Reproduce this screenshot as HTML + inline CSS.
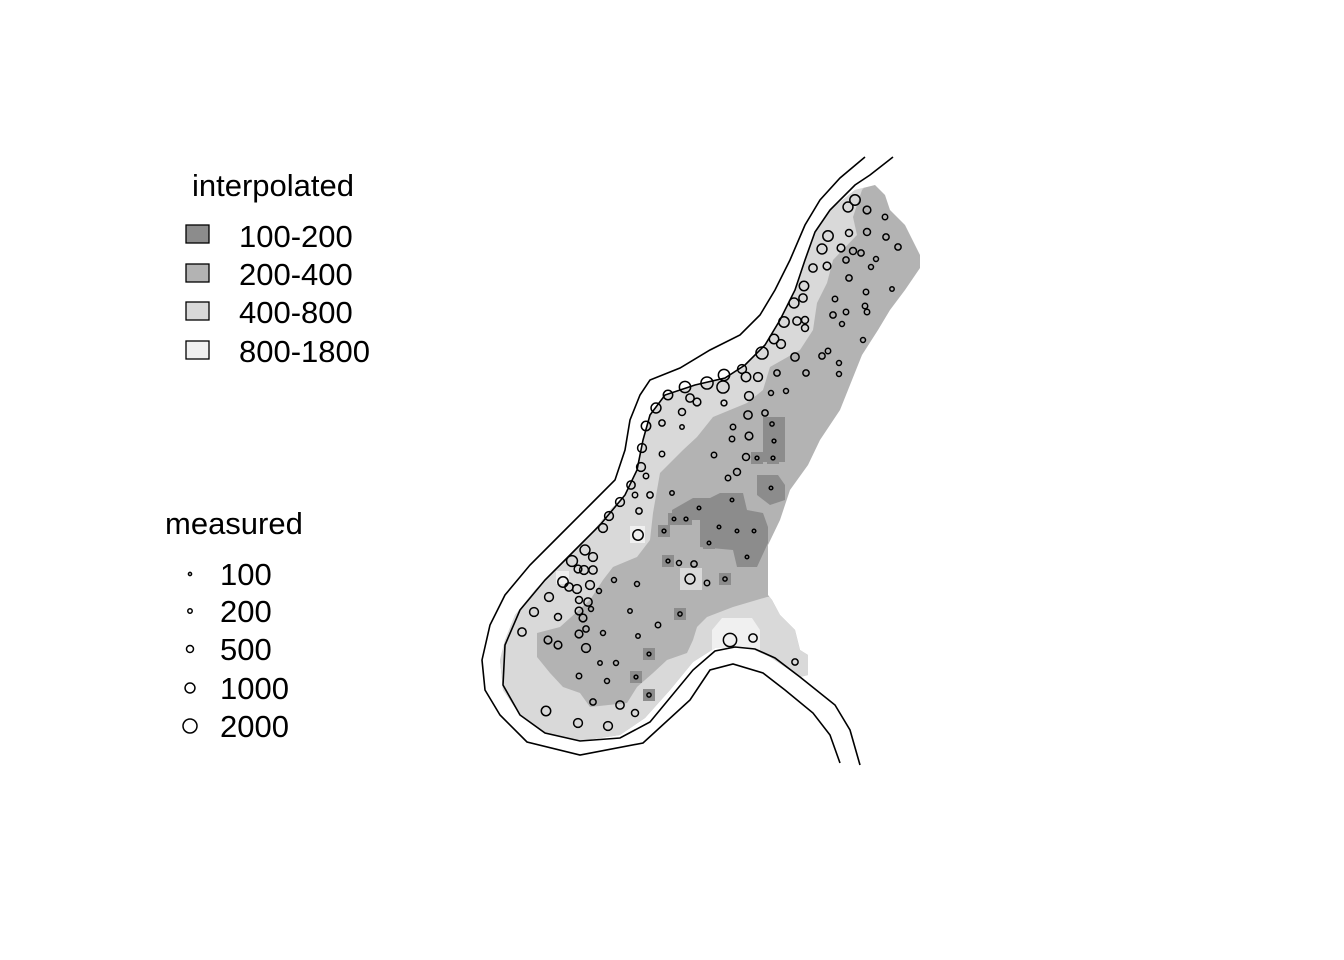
<!DOCTYPE html>
<html><head><meta charset="utf-8"><style>
html,body{margin:0;padding:0;background:#fff;}
svg{display:block;font-family:"Liberation Sans",sans-serif;}
</style></head><body>
<svg id="chart" width="1344" height="960" viewBox="0 0 1344 960" xmlns="http://www.w3.org/2000/svg">
<defs><clipPath id="rc"><path id="rpath" d="M875,185 L885,195 890,210 905,225 915,245 920,255 920,268 905,290 890,310 878,330 862,355 848,390 840,410 820,440 808,465 790,490 780,520 768,545 768,595 772,600 780,615 795,630 800,650 808,655 808,675 800,677 770,657 750,648 715,648 693,662 670,690 645,718 620,735 580,741 545,733 520,715 503,690 500,660 505,640 515,615 535,590 560,565 590,535 610,510 625,495 637,470 643,440 650,415 665,395 695,385 725,378 745,365 765,345 780,320 795,290 805,260 815,232 830,210 855,190Z"/></clipPath></defs>
<g clip-path="url(#rc)">
<rect x="480" y="150" width="460" height="640" fill="#b3b3b3"/>
<path fill="#d9d9d9" d="M820,160 L880,170 862,190 853,217 857,235 833,260 827,283 817,303 813,330 800,350 770,367 763,390 747,403 713,417 697,437 683,450 660,473 653,513 650,540 637,557 613,567 603,580 590,600 560,627 537,633 537,657 550,673 563,687 580,693 590,707 627,703 637,687 653,673 667,660 687,653 693,640 697,627 707,617 733,607 767,597 830,590 830,780 480,780 470,600 600,470 620,380 760,300Z"/>
<rect x="680" y="568" width="22" height="22" fill="#d9d9d9"/>
<path fill="#8c8c8c" d="M672,510 L693,498 710,498 720,493 743,493 747,510 763,513 768,527 768,543 757,567 737,567 733,550 700,547 700,520 672,520Z"/>
<path fill="#8c8c8c" d="M757,475 L778,475 785,485 785,500 770,505 757,495Z"/>
<rect x="763" y="417" width="22" height="45" fill="#8c8c8c"/>
<g id="darkspots"></g>
<rect x="630" y="526" width="15" height="17" fill="#f0f0f0"/>
<path fill="#f0f0f0" d="M712,630 L722,618 752,618 760,630 760,650 712,650Z"/>
<rect x="556" y="571" width="13" height="13" fill="#f0f0f0"/>
</g>
<g fill="none" stroke="#000" stroke-width="1.6">
<polyline points="865,157 840,178 820,200 805,225 790,260 775,290 760,315 740,335 710,350 680,368 650,380 640,395 630,420 625,450 615,480 590,505 560,535 530,565 505,595 490,625 482,660 485,690 500,715 527,742 580,755 643,743 690,700 710,670 733,664 763,673 785,690 813,713 830,735 840,763"/>
<polyline points="893,157 870,175 855,185 830,210 815,232 805,260 795,290 780,320 765,345 745,365 725,378 695,385 665,395 650,415 643,440 637,470 625,495 600,525 575,550 545,580 520,610 505,645 503,685 520,715 545,733 580,741 620,738 650,722 693,670 715,651 735,647 755,649 775,658 800,677 835,705 850,730 860,765"/>
</g>
<g id="pts" fill="none" stroke="#000" stroke-width="1.5"></g>
<g font-size="31">
<text x="192" y="196">interpolated</text>
<rect x="186" y="225" width="23" height="18" fill="#8c8c8c" stroke="#000" stroke-width="1.3"/>
<rect x="186" y="264" width="23" height="18" fill="#b3b3b3" stroke="#000" stroke-width="1.3"/>
<rect x="186" y="302" width="23" height="18" fill="#d9d9d9" stroke="#000" stroke-width="1.3"/>
<rect x="186" y="341" width="23" height="18" fill="#f0f0f0" stroke="#000" stroke-width="1.3"/>
<text x="239" y="247">100-200</text>
<text x="239" y="285">200-400</text>
<text x="239" y="323">400-800</text>
<text x="239" y="362">800-1800</text>
</g>
<g id="leg2" font-size="31">
<text x="165" y="534">measured</text>
</g>
</svg>
<script>
const px = [855,848,867,885,828,849,867,886,898,822,841,853,861,846,876,871,827,813,849,892,866,865,867,804,803,794,835,833,846,842,784,797,805,805,863,774,781,762,822,828,839,839,795,742,746,758,777,806,724,723,707,685,690,697,668,749,771,786,724,682,656,748,765,662,682,733,772,646,749,732,774,642,662,714,746,757,773,641,646,737,728,631,635,650,672,771,620,732,699,639,609,674,686,603,719,737,754,664,638,709,585,593,572,747,668,679,694,578,584,593,690,725,707,614,637,563,569,577,590,599,549,579,588,591,579,534,583,630,680,558,658,586,579,603,638,522,548,558,586,730,753,649,600,616,795,579,636,607,649,593,620,546,635,578,608];
const py = [200,207,210,217,236,233,232,237,247,249,248,251,253,260,259,267,266,268,278,289,292,306,312,286,298,303,299,315,312,324,322,321,320,328,340,339,344,353,356,351,363,374,357,369,377,377,373,373,375,387,383,387,398,402,395,396,393,391,403,412,408,415,413,423,427,427,424,426,436,439,441,448,454,455,457,458,458,467,476,472,478,485,495,495,493,488,502,500,508,511,516,519,519,528,527,531,531,531,535,543,550,557,561,557,561,563,564,569,570,570,579,579,583,580,584,582,587,589,585,591,597,600,602,609,611,612,618,611,614,617,625,629,634,633,636,632,640,645,648,640,638,654,663,663,662,676,677,681,695,702,705,711,713,723,726];
const zinc = [1100,1000,600,300,1100,500,500,400,400,1000,600,500,400,400,250,250,600,700,400,200,300,300,300,900,700,1000,300,400,300,250,1100,700,500,500,250,900,800,1500,400,300,250,250,700,800,900,800,400,400,1300,1500,1500,1300,700,600,900,800,250,250,350,500,1000,700,400,400,200,300,180,900,600,300,150,800,300,300,500,150,150,800,300,500,300,700,300,400,200,130,800,130,130,400,800,130,150,800,130,130,130,150,1100,130,1000,800,1200,130,150,250,400,600,800,700,1000,180,300,250,250,1100,700,800,800,250,800,500,700,250,600,800,600,200,180,500,300,400,600,250,200,700,600,600,800,1800,700,150,200,250,400,300,150,250,180,400,700,900,500,800,800];
const legendValues = [100,200,500,1000,2000];

const ox = 480, oy = 800;
const X = v => ox + (v - ox);
const Y = v => oy - (oy - v);
const R = z => 7 * Math.sqrt(z / 2000);
const NS = 'http://www.w3.org/2000/svg';
const g = document.getElementById('pts');
const ds = document.getElementById('darkspots');
for (let i = 0; i < px.length; i++) {
  if (zinc[i] < 200) {
    const s = document.createElementNS(NS, 'rect');
    s.setAttribute('x', X(px[i]) - 6); s.setAttribute('y', Y(py[i]) - 6);
    s.setAttribute('width', 12); s.setAttribute('height', 12);
    s.setAttribute('fill', '#8c8c8c');
    
    
    ds.appendChild(s);
  }
  const c = document.createElementNS(NS, 'circle');
  c.setAttribute('cx', X(px[i])); c.setAttribute('cy', Y(py[i]));
  c.setAttribute('r', R(zinc[i]));
  
  
  g.appendChild(c);
}
const lg = document.getElementById('leg2');
const ly = [574, 611, 649, 688, 726];
legendValues.forEach((v, i) => {
  const c = document.createElementNS(NS, 'circle');
  c.setAttribute('cx', 190); c.setAttribute('cy', ly[i]);
  c.setAttribute('r', R(v)); c.setAttribute('fill', 'none');
  c.setAttribute('stroke', '#000'); c.setAttribute('stroke-width', '1.5');
  
  
  lg.appendChild(c);
  const t = document.createElementNS(NS, 'text');
  t.setAttribute('x', 220); t.setAttribute('y', ly[i] + 11);
  t.textContent = v;
  
  
  lg.appendChild(t);
});
</script>
</body></html>
